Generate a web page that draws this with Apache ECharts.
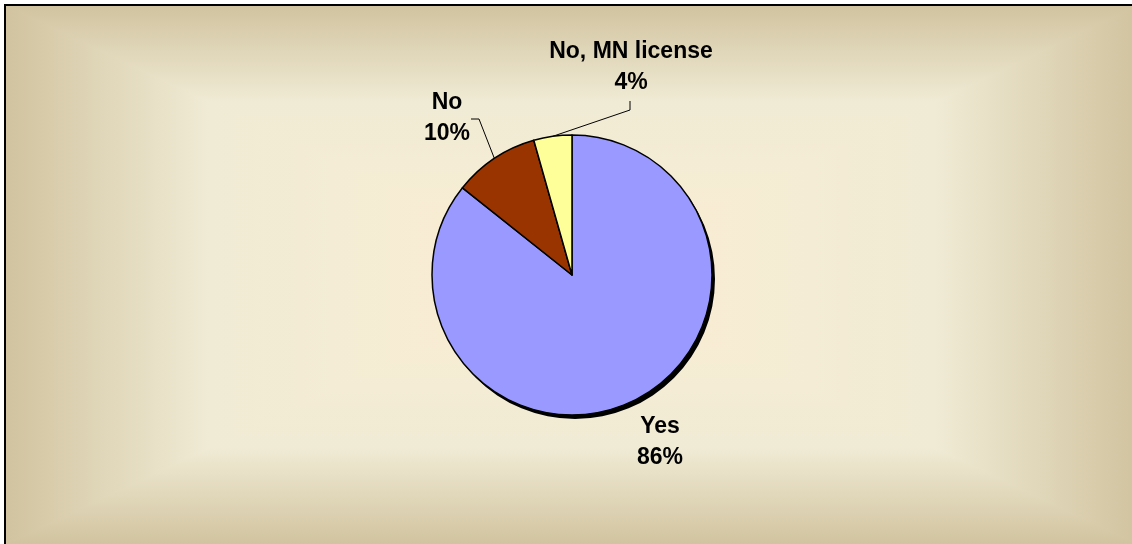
<!DOCTYPE html>
<html>
<head>
<meta charset="utf-8">
<style>
html,body{margin:0;padding:0;background:#fff;}
#chart{width:1132px;height:544px;}
</style>
<script src="https://cdn.jsdelivr.net/npm/echarts@6/dist/echarts.min.js"></script>
</head>
<body>
<div id="chart"></div>
<script>
// ---- data ----
var categories = ['Yes', 'No', 'No, MN license'];
var values = [85.7, 9.9, 4.4];
var sliceColors = ['#9999FF', '#993300', '#FFFF99'];

// ---- layout ----
var frame = {x: 5, y: 5, w: 1134, h: 540};
var cx = frame.x + frame.w / 2, cy = frame.y + frame.h / 2;
var edgeStops = [
  {offset: 0, color: '#D1C39F'},
  {offset: 0.36, color: '#F0EBD5'},
  {offset: 1, color: '#FCEED3'}
];
function grad(x0, y0, x1, y1) {
  return new echarts.graphic.LinearGradient(x0, y0, x1, y1, edgeStops);
}
var L = frame.x, T = frame.y, R = frame.x + frame.w, B = frame.y + frame.h;
var pieCenter = [572, 275];
var pieRadius = 140;

var labelPos = {
  0: {x: 660, y: 442},
  1: {x: 447, y: 118},
  2: {x: 631, y: 67}
};
var linePath = {
  1: [[479, 119], [471, 119]],
  2: [[630, 110], [630, 101]]
};

var chart = echarts.init(document.getElementById('chart'), null, {renderer: 'canvas'});
chart.setOption({
  animation: false,
  graphic: [
    {type: 'group', silent: true, z: -10, children: [
      {type: 'rect', shape: {x: L, y: T, width: cx - L, height: B - T},
        style: {fill: grad(0, 0, 1, 0)}},
      {type: 'rect', shape: {x: cx, y: T, width: R - cx, height: B - T},
        style: {fill: grad(1, 0, 0, 0)}},
      {type: 'polygon', shape: {points: [[L, T], [R, T], [cx, cy]]},
        style: {fill: grad(0, 0, 0, 1)}},
      {type: 'polygon', shape: {points: [[L, B], [R, B], [cx, cy]]},
        style: {fill: grad(0, 1, 0, 0)}},
      {type: 'polyline', shape: {points: [[L, B + 5], [L, T], [R + 5, T]]},
        style: {fill: 'none', stroke: '#000', lineWidth: 2}}
    ]}
  ],
  series: [{
    // drop shadow of the pie
    type: 'pie',
    silent: true,
    center: [pieCenter[0] + 3, pieCenter[1] + 4],
    radius: pieRadius,
    startAngle: 90,
    z: 1,
    label: {show: false},
    labelLine: {show: false},
    emphasis: {disabled: true},
    itemStyle: {color: '#000', borderWidth: 0},
    data: values.map(function (v) { return {value: v}; })
  }, {
    type: 'pie',
    center: pieCenter,
    radius: pieRadius,
    startAngle: 90,
    clockwise: true,
    z: 2,
    avoidLabelOverlap: false,
    emphasis: {disabled: true},
    itemStyle: {borderColor: '#000', borderWidth: 1.5},
    label: {
      show: true,
      position: 'outside',
      formatter: function (p) { return p.name + '\n' + Math.round(p.percent) + '%'; },
      fontFamily: 'Liberation Sans, Arial, sans-serif',
      fontWeight: 'bold',
      fontSize: 23,
      lineHeight: 31,
      color: '#000',
      align: 'center'
    },
    labelLine: {show: true, length: 20, length2: 10, lineStyle: {color: '#000', width: 1}},
    labelLayout: function (params) {
      var i = params.dataIndex;
      var res = {x: labelPos[i].x, y: labelPos[i].y, align: 'center', verticalAlign: 'middle'};
      if (linePath[i] && params.labelLinePoints) {
        res.labelLinePoints = [params.labelLinePoints[0]].concat(linePath[i]);
      }
      return res;
    },
    data: categories.map(function (c, i) {
      var item = {name: c, value: values[i], itemStyle: {color: sliceColors[i]}};
      if (i === 0) {
        item.labelLine = {show: false};
      }
      return item;
    })
  }]
});
</script>
</body>
</html>
